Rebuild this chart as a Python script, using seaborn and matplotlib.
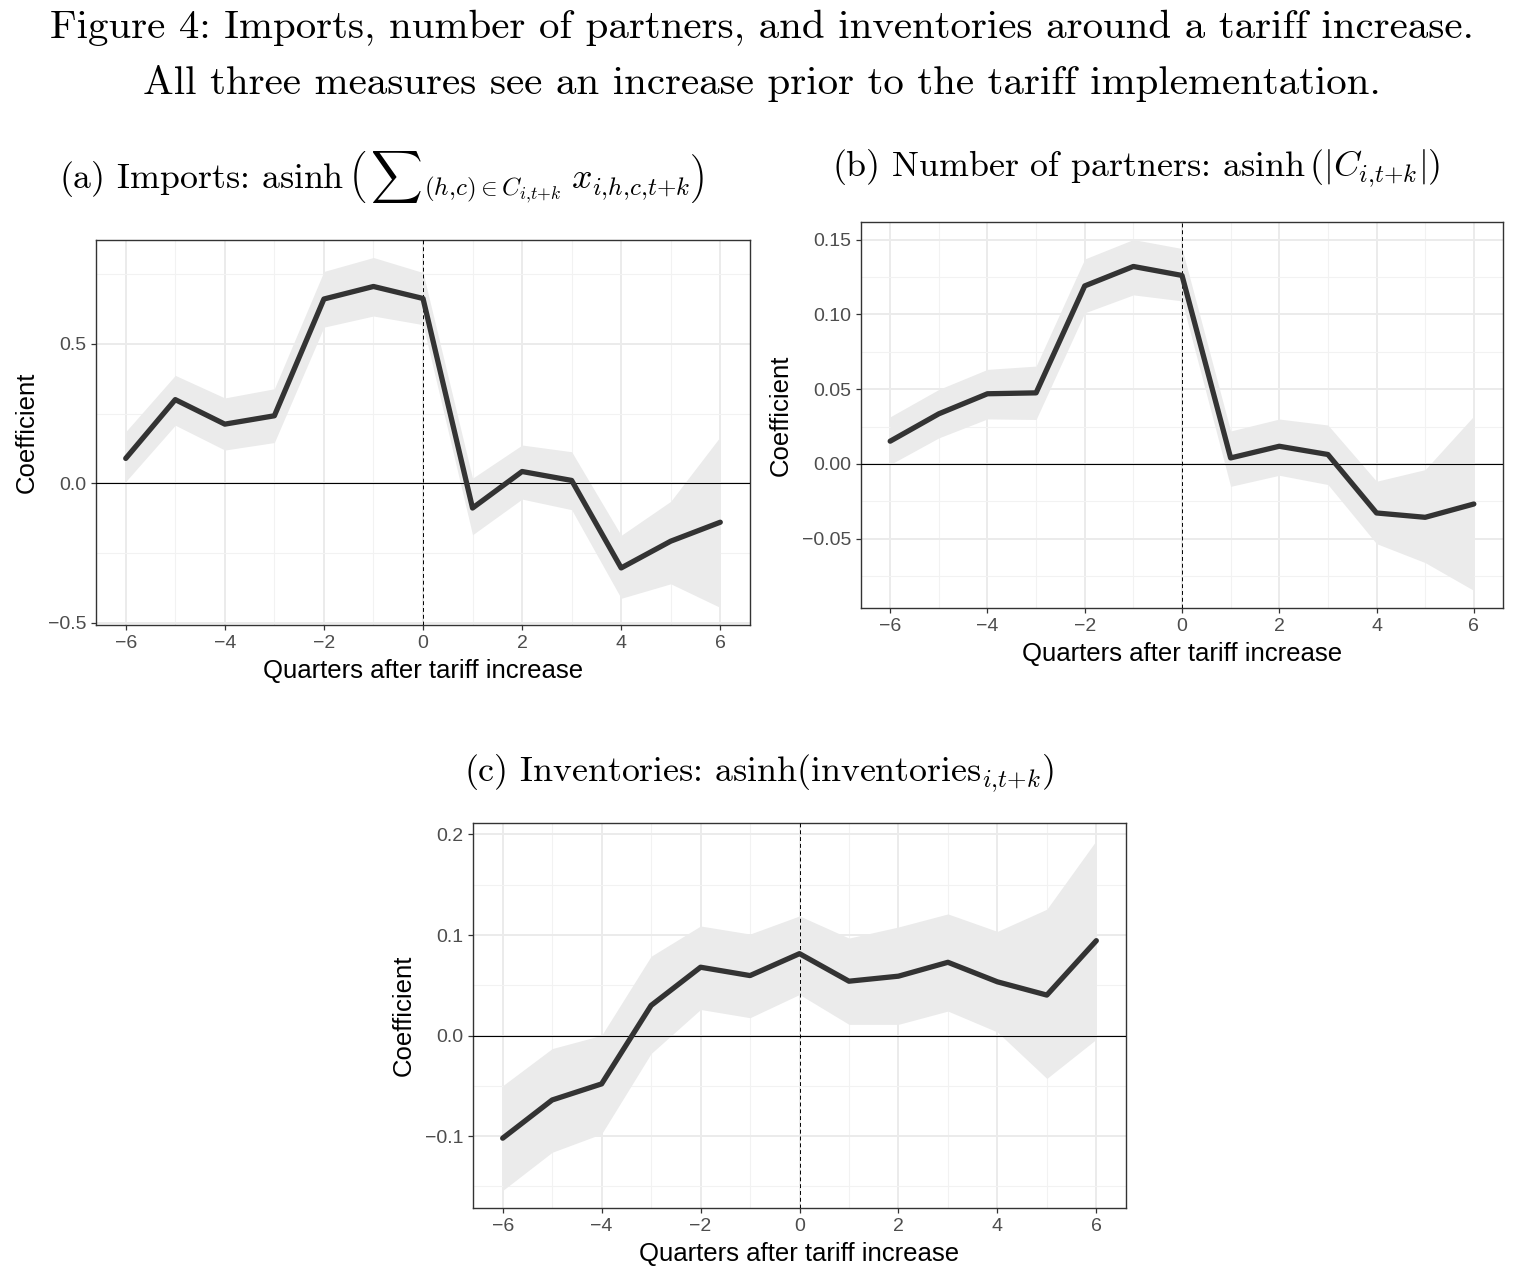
import matplotlib
matplotlib.use("Agg")
import matplotlib.pyplot as plt
import matplotlib.ticker as mticker
import pandas as pd
import seaborn as sns

# %%
# event-study estimates (quarter -6 .. 6)
quarters = list(range(-6, 7))

imports_coef = [0.089, 0.300, 0.212, 0.242, 0.661, 0.706, 0.663, -0.089, 0.042, 0.010, -0.304, -0.208, -0.140]
imports_lo = [0.006, 0.208, 0.119, 0.146, 0.560, 0.600, 0.569, -0.185, -0.057, -0.095, -0.413, -0.361, -0.446]
imports_hi = [0.185, 0.387, 0.306, 0.339, 0.760, 0.810, 0.756, 0.018, 0.137, 0.113, -0.187, -0.065, 0.167]

partners_coef = [0.0152, 0.0335, 0.0469, 0.0475, 0.119, 0.132, 0.126, 0.0040, 0.0118, 0.0063, -0.0328, -0.0357, -0.0268]
partners_lo = [-0.0004, 0.0174, 0.0301, 0.0297, 0.101, 0.113, 0.109, -0.015, -0.0076, -0.0138, -0.0533, -0.066, -0.0846]
partners_hi = [0.0315, 0.0498, 0.0632, 0.0654, 0.137, 0.150, 0.144, 0.022, 0.030, 0.026, -0.0116, -0.0038, 0.032]

invent_coef = [-0.102, -0.064, -0.048, 0.030, 0.068, 0.0597, 0.0815, 0.0541, 0.0591, 0.0729, 0.0535, 0.0403, 0.0944]
invent_lo = [-0.154, -0.116, -0.0977, -0.0178, 0.026, 0.0178, 0.0409, 0.0112, 0.0112, 0.0244, 0.0036, -0.0426, -0.0036]
invent_hi = [-0.0498, -0.0129, 0.0003, 0.0789, 0.109, 0.101, 0.119, 0.097, 0.108, 0.121, 0.1036, 0.1257, 0.194]

x_ticks = [-6, -4, -2, 0, 2, 4, 6]
imports_yticks = [-0.5, 0.0, 0.5]
partners_yticks = [-0.05, 0.0, 0.05, 0.10, 0.15]
invent_yticks = [-0.1, 0.0, 0.1, 0.2]

fig_title = ["Figure 4: Imports, number of partners, and inventories around a tariff increase.",
             "All three measures see an increase prior to the tariff implementation."]
title_a = (r"(a) Imports: $\mathrm{asinh}\,\left(\,{\sum}_{(h{,}c)\in C_{i{,}t{+}k}}"
           r"\; x_{i{,}h{,}c{,}t{+}k}\right)$")
title_b = r"(b) Number of partners: $\mathrm{asinh}\,(|C_{i{,}t{+}k}|)$"
title_c = r"(c) Inventories: $\mathrm{asinh}(\mathrm{inventories}_{i{,}t{+}k})$"

# %%
sns.set_theme(style="white")
plt.rcParams["font.family"] = ["Liberation Sans", "DejaVu Sans"]
plt.rcParams["mathtext.fontset"] = "cm"
plt.rcParams["axes.unicode_minus"] = True

W, H = 1524, 1274
fig = plt.figure(figsize=(W / 100, H / 100), dpi=100)


def px_axes(left, top, right, bottom):
    return fig.add_axes([left / W, 1 - bottom / H, (right - left) / W, (bottom - top) / H])


def draw_panel(ax, coef, lo, hi, yticks, ndec):
    df = pd.DataFrame({"quarter": quarters, "coef": coef, "lo": lo, "hi": hi})
    ax.fill_between(df["quarter"], df["lo"], df["hi"], color="#EBEBEB", lw=0, zorder=2)
    ax.axhline(0, color="black", lw=0.8, zorder=3)
    ax.axvline(0, color="black", lw=0.7, ls=(0, (4, 3)), zorder=3)
    sns.lineplot(data=df, x="quarter", y="coef", ax=ax, color="#333333", lw=3.8, zorder=4)
    ax.margins(x=0.05, y=0.05)
    xlim, ylim = ax.get_xlim(), ax.get_ylim()

    step = yticks[1] - yticks[0]
    ax.set_xticks(x_ticks)
    ax.set_xticks([q for q in quarters if q % 2], minor=True)
    ax.set_yticks(yticks)
    ax.set_yticks([t + step / 2 for t in [yticks[0] - step] + yticks], minor=True)
    ax.set_xlim(xlim)
    ax.set_ylim(ylim)
    ax.yaxis.set_major_formatter(mticker.FuncFormatter(
        lambda v, p: f"{v:.{ndec}f}".replace("-", "\u2212")))
    ax.xaxis.set_major_formatter(mticker.FuncFormatter(
        lambda v, p: f"{v:.0f}".replace("-", "\u2212")))

    ax.grid(True, which="major", color="#EBEBEB", lw=1.4, zorder=0)
    ax.grid(True, which="minor", color="#F2F2F2", lw=0.8, zorder=0)
    ax.set_axisbelow(True)
    for s in ax.spines.values():
        s.set_color("#333333")
        s.set_linewidth(1.0)
    ax.tick_params(which="major", length=3.5, width=0.9, color="#333333",
                   labelcolor="#4D4D4D", labelsize=14, pad=3.5, direction="out",
                   bottom=True, left=True)
    ax.tick_params(which="minor", length=0)
    ax.set_xlabel("Quarters after tariff increase", fontsize=18.5, color="black", labelpad=5)
    ax.set_ylabel("Coefficient", fontsize=18.5, color="black", labelpad=6.5)


ax_a = px_axes(96, 240, 750, 625)
draw_panel(ax_a, imports_coef, imports_lo, imports_hi, imports_yticks, 1)
ax_b = px_axes(861, 222, 1503, 608)
draw_panel(ax_b, partners_coef, partners_lo, partners_hi, partners_yticks, 2)
ax_c = px_axes(473, 823, 1126, 1208)
draw_panel(ax_c, invent_coef, invent_lo, invent_hi, invent_yticks, 1)

# titles in a LaTeX-like serif
serif = dict(family="cmr10", color="black", ha="center", va="center")
fig.text(0.5, 1 - 28 / H, fig_title[0], fontsize=29.5, **serif)
fig.text(0.5, 1 - 83 / H, fig_title[1], fontsize=29.5, **serif)
fig.text(382 / W, 1 - 177 / H, title_a, fontsize=25.8, **serif)
fig.text(1136 / W, 1 - 168 / H, title_b, fontsize=25.8, **serif)
fig.text(759 / W, 1 - 773 / H, title_c, fontsize=25.8, **serif)

fig.savefig("out.png", dpi=100, facecolor="white")
